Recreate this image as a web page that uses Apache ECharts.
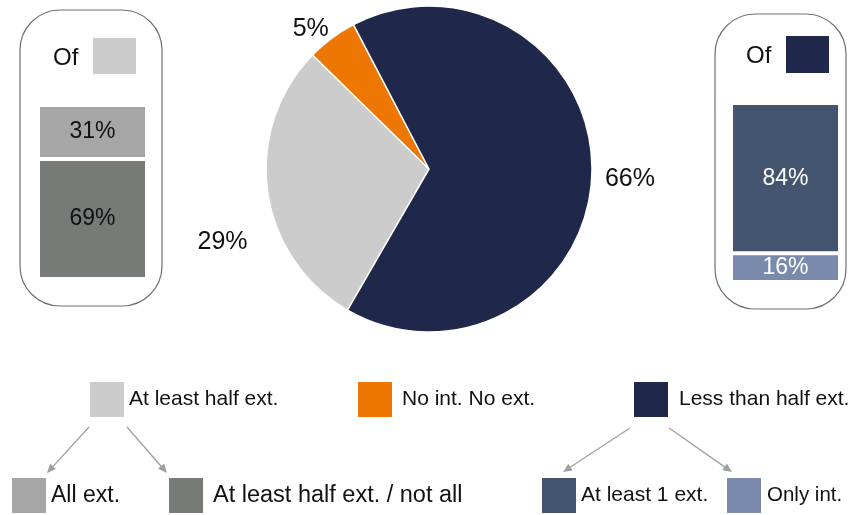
<!DOCTYPE html>
<html>
<head>
<meta charset="utf-8">
<script src="https://cdn.jsdelivr.net/npm/echarts@6/dist/echarts.min.js"></script>
<style>
  html, body { margin: 0; padding: 0; background: #fff; }
  #chart { width: 849px; height: 515px; }
</style>
</head>
<body>
<div id="chart"></div>
<script>
// ---- data ----
const pieCategories = ['At least half ext.', 'No int. No ext.', 'Less than half ext.'];
const pieValues = [29, 5, 66];
const leftCategories = ['All ext.', 'At least half ext. / not all'];
const leftValues = [31, 69];
const rightCategories = ['At least 1 ext.', 'Only int.'];
const rightValues = [84, 16];

// ---- styles ----
const FONT = '"Liberation Sans", Arial, sans-serif';
const pieColors = ['#cccccc', '#ee7603', '#1f274b'];
const leftColors = ['#a6a6a6', '#767b78'];
const rightColors = ['#44556f', '#7a8aad'];
const labelOffsets = [[-1, 50], [12, -1], [-6, 6]];

const chart = echarts.init(document.getElementById('chart'), null, { renderer: 'canvas' });

function arrow(x1, y1, x2, y2) {
  const ang = Math.atan2(y2 - y1, x2 - x1);
  const L = 9, W = 4;
  const bx = x2 - L * Math.cos(ang), by = y2 - L * Math.sin(ang);
  const px = -Math.sin(ang) * W, py = Math.cos(ang) * W;
  return [
    { type: 'line', shape: { x1: x1, y1: y1, x2: bx, y2: by }, style: { stroke: '#a0a0a0', lineWidth: 1.3 } },
    { type: 'polygon', shape: { points: [[x2, y2], [bx + px, by + py], [bx - px, by - py]] }, style: { fill: '#a0a0a0' } }
  ];
}

function stackSeries(cats, vals, colors, gridIdx, textColor) {
  // first category is drawn on top -> push it last
  const out = [];
  for (let i = cats.length - 1; i >= 0; i--) {
    out.push({
      type: 'bar',
      name: cats[i],
      stack: 's' + gridIdx,
      xAxisIndex: gridIdx,
      yAxisIndex: gridIdx,
      barWidth: '100%',
      data: [vals[i]],
      itemStyle: { color: colors[i], borderColor: '#ffffff', borderWidth: 2 },
      label: {
        show: true, position: 'inside', formatter: '{c}%',
        color: textColor, fontSize: 23, fontFamily: FONT
      },
      emphasis: { disabled: true },
      silent: true
    });
  }
  return out;
}

function legendAt(name, left, top, size, gap) {
  return {
    data: [name], left: left, top: top, padding: 0, orient: 'horizontal',
    icon: 'rect', itemWidth: 34, itemHeight: 35, itemGap: 0,
    selectedMode: false,
    itemStyle: { borderWidth: 0 },
    textStyle: { fontSize: size, color: '#111', fontFamily: FONT, padding: [0, 0, 0, gap] }
  };
}

const option = {
  backgroundColor: '#ffffff',
  animation: false,
  textStyle: { fontFamily: FONT },
  grid: [
    { left: 38, top: 105, width: 109, height: 174 },
    { left: 731, top: 103, width: 109, height: 179 }
  ],
  xAxis: [
    { gridIndex: 0, type: 'category', data: ['a'], show: false },
    { gridIndex: 1, type: 'category', data: ['a'], show: false }
  ],
  yAxis: [
    { gridIndex: 0, type: 'value', min: 0, max: 100, show: false },
    { gridIndex: 1, type: 'value', min: 0, max: 100, show: false }
  ],
  legend: [
    legendAt(pieCategories[0], 90, 382, 21, 0),
    legendAt(pieCategories[1], 358, 382, 21, 5),
    legendAt(pieCategories[2], 634, 382, 21, 6),
    legendAt(leftCategories[0], 12, 478, 23, 0),
    legendAt(leftCategories[1], 169, 478, 23.5, 5),
    legendAt(rightCategories[0], 542, 478, 21, 0),
    legendAt(rightCategories[1], 727, 478, 20.5, 1)
  ],
  series: [
    {
      type: 'pie',
      center: [429, 169],
      radius: 163,
      startAngle: 240,
      clockwise: true,
      avoidLabelOverlap: false,
      silent: true,
      itemStyle: { borderColor: '#ffffff', borderWidth: 1.5 },
      label: {
        show: true, position: 'outside', formatter: '{c}%',
        fontSize: 25, color: '#111', fontFamily: FONT
      },
      labelLine: { show: false, length: 10, length2: 4 },
      data: pieCategories.map((n, i) => ({
        name: n, value: pieValues[i],
        itemStyle: { color: pieColors[i] },
        label: { offset: labelOffsets[i] }
      }))
    },
    ...stackSeries(leftCategories, leftValues, leftColors, 0, '#111'),
    ...stackSeries(rightCategories, rightValues, rightColors, 1, '#ffffff')
  ],
  graphic: [
    { type: 'rect', shape: { x: 20, y: 10, width: 142, height: 296, r: 40 }, style: { fill: null, stroke: '#707070', lineWidth: 1.2 } },
    { type: 'rect', shape: { x: 715, y: 14, width: 131, height: 295, r: 40 }, style: { fill: null, stroke: '#707070', lineWidth: 1.2 } },
    { type: 'text', x: 53, y: 58, style: { text: 'Of', fontSize: 24, fontFamily: FONT, fill: '#111', verticalAlign: 'middle' } },
    { type: 'rect', shape: { x: 93, y: 38, width: 43, height: 36 }, style: { fill: pieColors[0] } },
    { type: 'text', x: 746, y: 56, style: { text: 'Of', fontSize: 24, fontFamily: FONT, fill: '#111', verticalAlign: 'middle' } },
    { type: 'rect', shape: { x: 786, y: 36, width: 43, height: 37 }, style: { fill: pieColors[2] } },
    ...arrow(89, 427, 47, 473),
    ...arrow(127, 427, 167, 473),
    ...arrow(630, 428, 563, 472),
    ...arrow(669, 428, 732, 472)
  ]
};

chart.setOption(option);
</script>
</body>
</html>
